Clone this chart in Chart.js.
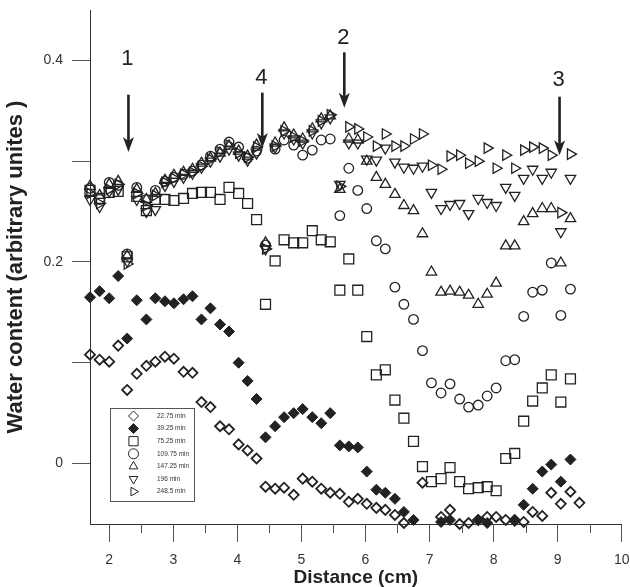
<!DOCTYPE html>
<html lang="en">
<head>
<meta charset="UTF-8">
<title>Water content vs distance</title>
<script src="https://cdn.jsdelivr.net/npm/chart.js"></script>
<style>
  html, body { margin: 0; padding: 0; background: #fff; }
  #wrap { position: relative; width: 630px; height: 587px; }
</style>
</head>
<body>
<div id="wrap"><canvas id="chart"></canvas></div>
<script>
// distance grid (cm) shared by all series, null = no visible point
const distance = [1.70,1.85,2.00,2.14,2.28,2.43,2.58,2.72,2.87,3.01,3.16,3.30,3.44,3.58,3.73,3.87,4.02,4.16,4.30,4.44,
  4.59,4.73,4.88,5.02,5.17,5.31,5.45,5.60,5.74,5.88,6.02,6.17,6.31,6.46,6.60,6.75,6.89,7.03,7.18,7.32,
  7.47,7.61,7.76,7.90,8.04,8.19,8.33,8.47,8.61,8.76,8.90,9.05,9.20,9.34];

const seriesNames = ['22.75 min', '39.25 min', '75.25 min', '109.75 min', '147.25 min', '196 min', '248.5 min'];

const w2275 = [0.108,0.103,0.101,0.117,0.073,0.089,0.097,0.101,0.106,0.104,
  0.091,0.090,0.061,0.056,0.037,0.034,0.019,0.013,0.005,-0.023,
  -0.025,-0.024,-0.031,-0.015,-0.018,-0.025,-0.029,-0.030,-0.038,-0.035,
  -0.040,-0.044,-0.046,-0.051,-0.059,null,-0.019,null,-0.053,-0.046,
  -0.060,-0.059,-0.056,-0.053,-0.053,-0.056,-0.056,-0.058,-0.048,-0.052,
  -0.029,-0.040,-0.028,-0.039];
const w3925 = [0.165,0.171,0.164,0.186,0.124,0.162,0.143,0.164,0.161,0.159,
  0.163,0.166,0.143,0.154,0.138,0.131,0.100,0.082,0.064,0.026,
  0.037,0.046,0.050,0.054,0.046,0.040,0.050,0.018,0.017,0.016,
  -0.008,-0.026,-0.029,-0.035,-0.048,-0.056,null,null,-0.058,-0.056,
  null,null,-0.056,-0.059,null,null,-0.057,-0.041,-0.025,-0.008,
  -0.001,-0.018,0.004,null];
const w7525 = [0.271,0.263,0.269,0.270,0.205,0.265,0.251,0.262,0.262,0.261,
  0.263,0.268,0.269,0.269,0.262,0.274,0.268,0.258,0.242,0.158,
  0.201,0.222,0.219,0.219,0.231,0.222,0.220,0.172,0.203,0.172,
  0.126,0.088,0.093,0.063,0.045,0.022,-0.003,-0.018,-0.015,-0.004,
  -0.018,-0.025,-0.024,-0.023,-0.027,0.005,0.010,0.042,0.062,0.075,
  0.088,0.061,0.084,null];
const w10975 = [0.273,0.262,0.279,0.276,0.208,0.274,0.262,0.271,0.280,0.284,
  0.287,0.290,0.296,0.305,0.312,0.319,0.314,0.303,0.310,0.217,
  0.312,0.321,0.316,0.306,0.311,0.321,0.322,0.246,0.293,0.271,
  0.253,0.221,0.213,0.175,0.158,0.143,0.112,0.080,0.070,0.079,
  0.064,0.056,0.058,0.067,0.075,0.102,0.103,0.146,0.170,0.172,
  0.199,0.147,0.173,null];
const w14725 = [0.275,0.266,0.277,0.280,0.206,0.272,0.262,0.268,0.281,0.286,
  0.289,0.292,0.298,0.303,0.308,0.315,0.310,0.305,0.316,0.219,
  0.318,0.333,0.326,0.322,0.332,0.342,0.345,0.272,0.322,0.321,
  0.300,0.284,0.277,0.267,0.256,0.251,0.228,0.190,0.170,0.171,
  0.170,0.167,0.158,0.168,0.179,0.216,0.216,0.240,0.248,0.253,
  0.253,0.199,0.243,null];
const w196 = [0.262,0.255,0.270,0.272,0.201,0.262,0.250,0.252,0.276,0.280,
  0.284,0.288,0.294,0.300,0.305,0.312,0.306,0.301,0.308,0.213,
  0.314,0.328,0.322,0.318,0.328,0.338,0.343,0.277,0.318,0.318,
  0.302,0.301,0.313,0.299,0.294,0.293,0.295,0.269,0.253,0.257,
  0.258,0.248,0.263,0.259,0.256,0.274,0.266,0.283,0.292,0.283,
  0.289,0.230,0.283,null];
const w2485 = [0.268,0.258,0.272,0.277,0.198,0.268,0.256,0.266,0.279,0.283,
  0.287,0.289,0.295,0.302,0.309,0.316,0.308,0.304,0.314,0.213,
  0.315,0.330,0.324,0.320,0.330,0.340,0.346,0.275,0.334,0.332,
  0.324,0.315,0.327,0.315,0.315,0.322,0.327,0.296,0.292,0.305,
  0.306,0.298,0.300,0.313,0.293,0.306,0.293,0.311,0.314,0.313,
  0.306,0.249,0.307,null];

const seriesValues = [w2275, w3925, w7525, w10975, w14725, w196, w2485];

const xTicks = [2, 3, 4, 5, 6, 7, 8, 9, 10];
const xMinorTicks = [2.5, 3.5, 4.5, 5.5, 6.5, 7.5, 8.5, 9.5];
const yTickLabels = ['0', '0.2', '0.4'];

// arrow annotations: label, x (cm), label y, arrow top, arrow tip (data units)
const arrowLabels = ['1', '4', '2', '3'];
const arrowX = [2.30, 4.39, 5.67, 9.03];
const arrowLabelY = [0.401, 0.383, 0.422, 0.381];
const arrowTop = [0.366, 0.368, 0.408, 0.364];
const arrowTip = [0.309, 0.313, 0.353, 0.306];

const INK = '#222';
const FONT = "'Liberation Sans', Arial, sans-serif";

// marker look per series
const markers = [
  { pointStyle: 'rectRot', radius: 5, rotation: 0, fill: 'rgba(0,0,0,0)', width: 1.8 },
  { pointStyle: 'rectRot', radius: 5.5, rotation: 0, fill: INK, width: 1 },
  { pointStyle: 'rect', radius: 7, rotation: 0, fill: 'rgba(0,0,0,0)', width: 1.3 },
  { pointStyle: 'circle', radius: 4.8, rotation: 0, fill: 'rgba(0,0,0,0)', width: 1.3 },
  { pointStyle: 'triangle', radius: 6, rotation: 0, fill: 'rgba(0,0,0,0)', width: 1.3 },
  { pointStyle: 'triangle', radius: 6, rotation: 180, fill: 'rgba(0,0,0,0)', width: 1.3 },
  { pointStyle: 'triangle', radius: 6, rotation: 90, fill: 'rgba(0,0,0,0)', width: 1.3 }
];

function toPoints(vals) {
  return distance.map((x, i) => ({ x: x, y: vals[i] }))
    .filter(p => p.y !== null && p.y !== undefined);
}

const datasets = seriesNames.map((name, i) => ({
  label: name,
  data: toPoints(seriesValues[i]),
  showLine: false,
  clip: false,
  pointStyle: markers[i].pointStyle,
  pointRadius: markers[i].radius,
  pointRotation: markers[i].rotation,
  pointBackgroundColor: markers[i].fill,
  pointBorderColor: INK,
  pointBorderWidth: markers[i].width
}));

// minor ticks under the x axis
const minorTicks = {
  id: 'minorTicks',
  afterDraw(chart) {
    const ctx = chart.ctx, xs = chart.scales.x, y0 = chart.chartArea.bottom;
    ctx.save();
    ctx.strokeStyle = '#555';
    ctx.lineWidth = 1;
    xMinorTicks.forEach(v => {
      const px = Math.round(xs.getPixelForValue(v)) + 0.5;
      ctx.beginPath();
      ctx.moveTo(px, y0);
      ctx.lineTo(px, y0 + 9);
      ctx.stroke();
    });
    ctx.restore();
  }
};

// numbered arrows
const arrows = {
  id: 'arrows',
  afterDatasetsDraw(chart) {
    const ctx = chart.ctx, xs = chart.scales.x, ys = chart.scales.y;
    ctx.save();
    ctx.strokeStyle = INK;
    ctx.fillStyle = INK;
    ctx.font = '22px ' + FONT;
    ctx.textAlign = 'center';
    ctx.textBaseline = 'middle';
    arrowLabels.forEach((lab, i) => {
      const px = xs.getPixelForValue(arrowX[i]);
      const top = ys.getPixelForValue(arrowTop[i]);
      const tip = ys.getPixelForValue(arrowTip[i]);
      ctx.fillText(lab, px - 1, ys.getPixelForValue(arrowLabelY[i]));
      ctx.lineWidth = 2.6;
      ctx.beginPath();
      ctx.moveTo(px, top);
      ctx.lineTo(px, tip - 10);
      ctx.stroke();
      ctx.beginPath();
      ctx.moveTo(px - 5.5, tip - 15);
      ctx.lineTo(px, tip - 11);
      ctx.lineTo(px + 5.5, tip - 15);
      ctx.lineTo(px, tip);
      ctx.closePath();
      ctx.fill();
    });
    ctx.restore();
  }
};

// boxed legend in the lower-left of the plot
const boxLegend = {
  id: 'boxLegend',
  afterDatasetsDraw(chart) {
    const ctx = chart.ctx, area = chart.chartArea;
    const left = area.left + 20, top = area.bottom - 116, w = 84, h = 93;
    ctx.save();
    ctx.fillStyle = '#fff';
    ctx.fillRect(left, top, w, h);
    ctx.strokeStyle = '#555';
    ctx.lineWidth = 1;
    ctx.strokeRect(left + 0.5, top + 0.5, w, h);
    ctx.font = '6.5px ' + FONT;
    ctx.textBaseline = 'middle';
    seriesNames.forEach((name, i) => {
      const cy = top + 8 + i * 12.6;
      const m = markers[i];
      ctx.strokeStyle = INK;
      ctx.fillStyle = m.fill === INK ? INK : '#fff';
      Chart.helpers.drawPoint(ctx, {
        pointStyle: m.pointStyle,
        radius: m.pointStyle === 'rect' ? 6.5 : 5,
        rotation: m.rotation,
        borderWidth: 1.3
      }, left + 23.5, cy);
      ctx.fillStyle = '#333';
      ctx.fillText(name, left + 47, cy);
    });
    ctx.restore();
  }
};

new Chart(document.getElementById('chart'), {
  type: 'scatter',
  data: { datasets: datasets },
  options: {
    responsive: true,
    maintainAspectRatio: false,
    animation: false,
    events: [],
    layout: { padding: { top: 10, right: 7, left: 0, bottom: 0 } },
    plugins: { legend: { display: false }, tooltip: { enabled: false } },
    scales: {
      x: {
        type: 'linear',
        min: 1.7,
        max: 10,
        afterFit(scale) {
          scale.height = 63;
          scale.paddingLeft = 0;
          scale.paddingRight = 0;
        },
        afterBuildTicks(scale) { scale.ticks = xTicks.map(v => ({ value: v })); },
        ticks: {
          padding: 10,
          color: '#333',
          font: { family: FONT, size: 14 },
          maxRotation: 0,
          autoSkip: false
        },
        grid: { drawOnChartArea: false, drawTicks: true, tickLength: 18, color: '#555' },
        border: { display: true, color: '#333', width: 1 },
        title: {
          display: true,
          text: 'Distance (cm)',
          color: INK,
          font: { family: FONT, size: 19, weight: 'bold', lineHeight: 1 },
          padding: { top: 0, bottom: 0 }
        }
      },
      y: {
        type: 'linear',
        min: -0.06,
        max: 0.45,
        afterFit(scale) {
          scale.width = 90;
          scale.paddingTop = 0;
          scale.paddingBottom = 0;
        },
        ticks: {
          stepSize: 0.1,
          includeBounds: false,
          padding: 9,
          color: '#333',
          font: { family: FONT, size: 14 },
          callback(value) {
            const lab = String(Math.round(value * 10) / 10);
            return yTickLabels.includes(lab) ? lab : '';
          }
        },
        grid: { drawOnChartArea: false, drawTicks: true, tickLength: 18, color: '#555' },
        border: { display: true, color: '#333', width: 1 },
        title: {
          display: true,
          text: 'Water content (arbitrary unites )',
          color: INK,
          font: { family: FONT, size: 22, weight: 'bold', lineHeight: 1 },
          padding: { top: 5, bottom: 0 }
        }
      }
    }
  },
  plugins: [minorTicks, arrows, boxLegend]
});
</script>
</body>
</html>
